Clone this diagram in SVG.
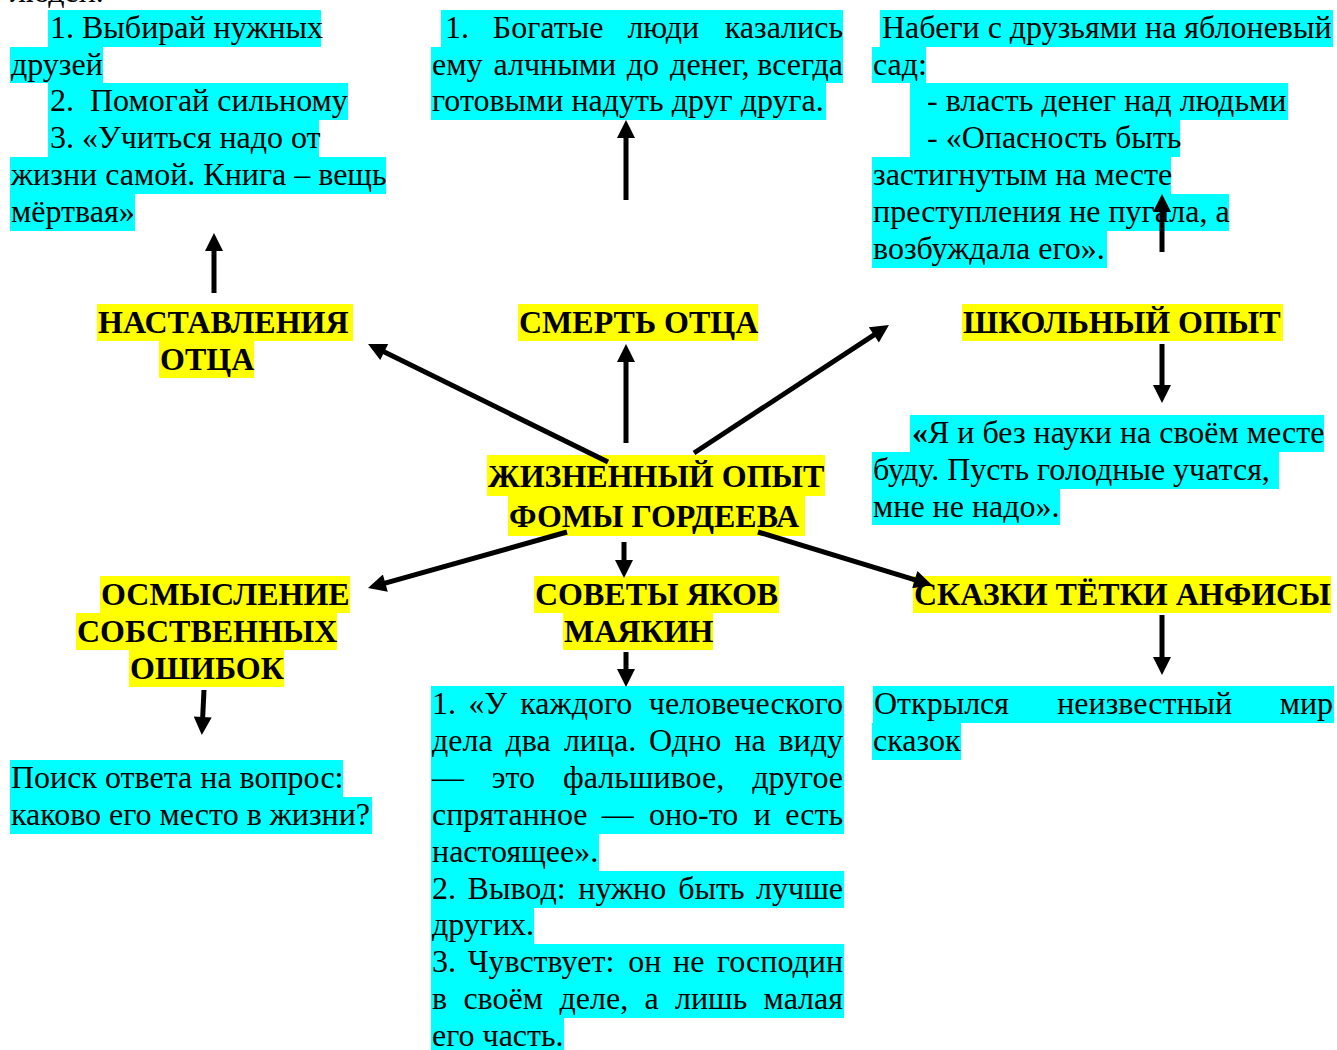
<svg xmlns="http://www.w3.org/2000/svg" width="1337" height="1050" viewBox="0 0 1337 1050">
<style>
.c{fill:#00FFFF}
.y{fill:#FFFF00}
.t{font-family:"Liberation Serif","Times New Roman",serif;font-size:32px;fill:#000}
.b{font-family:"Liberation Serif","Times New Roman",serif;font-size:32px;font-weight:bold;fill:#000}
.e{text-anchor:end}
.ar{stroke:#000;stroke-width:5;fill:none;marker-end:url(#ah)}
</style>
<defs>
<marker id="ah" markerUnits="userSpaceOnUse" markerWidth="20" markerHeight="18" viewBox="0 0 18 18" refX="2" refY="9" orient="auto">
<path d="M0,0 L18,9 L0,18 z" fill="#000"/>
</marker>
</defs>
<rect width="1337" height="1050" fill="#fff"/>

<g id="nastavleniya-details">
<text class="t" x="10" y="2">людей.</text>
<rect class="c" x="48" y="10" width="273" height="37"/>
<rect class="c" x="10" y="47" width="93" height="36"/>
<rect class="c" x="48" y="83" width="300" height="37"/>
<rect class="c" x="48" y="120" width="271" height="37"/>
<rect class="c" x="10" y="157" width="376" height="37"/>
<rect class="c" x="10" y="194" width="125" height="37"/>
<text class="t" x="50" y="38">1. Выбирай нужных</text>
<text class="t" x="11" y="75">друзей</text>
<text class="t" x="50" y="111" xml:space="preserve">2.  Помогай сильному</text>
<text class="t" x="50" y="148">3. «Учиться надо от</text>
<text class="t" x="11" y="185">жизни самой. Книга – вещь</text>
<text class="t" x="11" y="222">мёртвая»</text>
</g>

<g id="smert-details">
<rect class="c" x="441" y="10" width="402" height="37"/>
<rect class="c" x="431" y="47" width="412" height="36"/>
<rect class="c" x="431" y="83" width="395" height="37"/>
<text class="t" y="38"><tspan x="445">1.</tspan><tspan x="492.8">Богатые</tspan><tspan x="627.4">люди</tspan><tspan class="e" x="843">казались</tspan></text>
<text class="t" y="75"><tspan x="432">ему</tspan><tspan x="493.5">алчными</tspan><tspan x="626.8">до</tspan><tspan x="670.1">денег,</tspan><tspan class="e" x="843">всегда</tspan></text>
<text class="t" x="432" y="111">готовыми надуть друг друга.</text>
</g>

<g id="shkolny-top-details">
<rect class="c" x="880" y="10" width="453" height="37"/>
<rect class="c" x="872" y="47" width="54" height="36"/>
<rect class="c" x="910" y="83" width="378" height="37"/>
<rect class="c" x="910" y="120" width="270" height="37"/>
<rect class="c" x="872" y="157" width="299" height="37"/>
<rect class="c" x="872" y="194" width="357" height="37"/>
<rect class="c" x="872" y="231" width="235" height="37"/>
<text class="t" x="882" y="38">Набеги с друзьями на яблоневый</text>
<text class="t" x="873" y="75">сад:</text>
<text class="t" x="927" y="111">- власть денег над людьми</text>
<text class="t" x="927" y="148">- «Опасность быть</text>
<text class="t" x="873" y="185">застигнутым на месте</text>
<text class="t" x="873" y="222">преступления не пугала, а</text>
<text class="t" x="873" y="259">возбуждала его».</text>
</g>

<g id="nastavleniya">
<rect class="y" x="97" y="304" width="256" height="37"/>
<rect class="y" x="159" y="341" width="95" height="37"/>
<text class="b" x="98" y="333">НАСТАВЛЕНИЯ</text>
<text class="b" x="160" y="370">ОТЦА</text>
</g>

<g id="smert">
<rect class="y" x="518" y="304" width="240" height="37"/>
<text class="b" x="519" y="333">СМЕРТЬ ОТЦА</text>
</g>

<g id="shkolny">
<rect class="y" x="962" y="304" width="321" height="37"/>
<text class="b" x="963" y="333">ШКОЛЬНЫЙ ОПЫТ</text>
</g>

<g id="shkolny-details">
<rect class="c" x="910" y="415" width="414" height="37"/>
<rect class="c" x="872" y="452" width="407" height="37"/>
<rect class="c" x="872" y="489" width="188" height="36"/>
<text class="t" x="912" y="443"><tspan font-weight="bold">«</tspan>Я и без науки на своём месте</text>
<text class="t" x="873" y="480">буду. Пусть голодные учатся,</text>
<text class="t" x="873" y="517">мне не надо».</text>
</g>

<g id="center">
<rect class="y" x="487" y="455" width="338" height="41"/>
<rect class="y" x="508" y="496" width="297" height="40"/>
<text class="b" x="488" y="487">ЖИЗНЕННЫЙ ОПЫТ</text>
<text class="b" x="509" y="527">ФОМЫ ГОРДЕЕВА</text>
</g>

<g id="osmyslenie">
<rect class="y" x="100" y="576" width="250" height="37"/>
<rect class="y" x="76" y="613" width="261" height="37"/>
<rect class="y" x="129" y="650" width="155" height="37"/>
<text class="b" x="101" y="605">ОСМЫСЛЕНИЕ</text>
<text class="b" x="77" y="642">СОБСТВЕННЫХ</text>
<text class="b" x="130" y="679">ОШИБОК</text>
</g>

<g id="osmyslenie-details">
<rect class="c" x="10" y="760" width="333" height="37"/>
<rect class="c" x="10" y="797" width="362" height="37"/>
<text class="t" x="11" y="788">Поиск ответа на вопрос:</text>
<text class="t" x="11" y="825">каково его место в жизни?</text>
</g>

<g id="sovety">
<rect class="y" x="534" y="576" width="245" height="37"/>
<rect class="y" x="563" y="613" width="150" height="37"/>
<text class="b" x="535" y="605">СОВЕТЫ ЯКОВ</text>
<text class="b" x="564" y="642">МАЯКИН</text>
</g>

<g id="sovety-details">
<rect class="c" x="431" y="686" width="413" height="148"/>
<rect class="c" x="431" y="834" width="168" height="37"/>
<rect class="c" x="431" y="871" width="413" height="37"/>
<rect class="c" x="431" y="907" width="103" height="37"/>
<rect class="c" x="431" y="944" width="413" height="74"/>
<rect class="c" x="431" y="1018" width="133" height="32"/>
<text class="t" y="714"><tspan x="432">1.</tspan><tspan x="468.6">«У</tspan><tspan x="520.3">каждого</tspan><tspan class="e" x="843">человеческого</tspan></text>
<text class="t" y="751"><tspan x="432">дела</tspan><tspan x="505.5">два</tspan><tspan x="563.9">лица.</tspan><tspan x="649.1">Одно</tspan><tspan x="734.4">на</tspan><tspan class="e" x="843">виду</tspan></text>
<text class="t" y="788"><tspan x="432">—</tspan><tspan x="491.7">это</tspan><tspan x="563.1">фальшивое,</tspan><tspan class="e" x="843">другое</tspan></text>
<text class="t" y="825"><tspan x="432">спрятанное</tspan><tspan x="601.8">—</tspan><tspan x="648.9">оно-то</tspan><tspan x="753.8">и</tspan><tspan class="e" x="843">есть</tspan></text>
<text class="t" x="432" y="862">настоящее».</text>
<text class="t" y="899"><tspan x="432">2.</tspan><tspan x="467.6">Вывод:</tspan><tspan x="578.3">нужно</tspan><tspan x="678.3">быть</tspan><tspan class="e" x="843">лучше</tspan></text>
<text class="t" x="432" y="935">других.</text>
<text class="t" y="972"><tspan x="432">3.</tspan><tspan x="467.7">Чувствует:</tspan><tspan x="628.2">он</tspan><tspan x="673">не</tspan><tspan class="e" x="843">господин</tspan></text>
<text class="t" y="1009"><tspan x="432">в</tspan><tspan x="463.4">своём</tspan><tspan x="559.5">деле,</tspan><tspan x="644.5">а</tspan><tspan x="675">лишь</tspan><tspan class="e" x="843">малая</tspan></text>
<text class="t" x="432" y="1046">его часть.</text>
</g>

<g id="skazki">
<rect class="y" x="913" y="576" width="418" height="37"/>
<text class="b" x="914" y="605">СКАЗКИ ТЁТКИ АНФИСЫ</text>
</g>

<g id="skazki-details">
<rect class="c" x="873" y="686" width="461" height="37"/>
<rect class="c" x="872" y="723" width="89" height="37"/>
<text class="t" y="714"><tspan x="874">Открылся</tspan><tspan x="1057.2">неизвестный</tspan><tspan class="e" x="1333">мир</tspan></text>
<text class="t" x="873" y="751">сказок</text>
</g>

<g id="connectors">
<line class="ar" x1="214" y1="293" x2="214" y2="249"/>
<line class="ar" x1="626" y1="200" x2="626" y2="136"/>
<line class="ar" x1="1162" y1="252" x2="1162" y2="210"/>
<line class="ar" x1="608" y1="462" x2="382.4" y2="351.1"/>
<line class="ar" x1="626" y1="443" x2="626" y2="360"/>
<line class="ar" x1="694" y1="453" x2="875.6" y2="333.8"/>
<line class="ar" x1="1162" y1="344" x2="1162" y2="387"/>
<line class="ar" x1="624" y1="542" x2="624" y2="562"/>
<line class="ar" x1="567" y1="532" x2="383.4" y2="583.7"/>
<line class="ar" x1="758" y1="532" x2="916.7" y2="580.3"/>
<line class="ar" x1="204" y1="690" x2="202.6" y2="719"/>
<line class="ar" x1="626" y1="652" x2="626" y2="671"/>
<line class="ar" x1="1162" y1="615" x2="1162" y2="659"/>
</g>
</svg>
